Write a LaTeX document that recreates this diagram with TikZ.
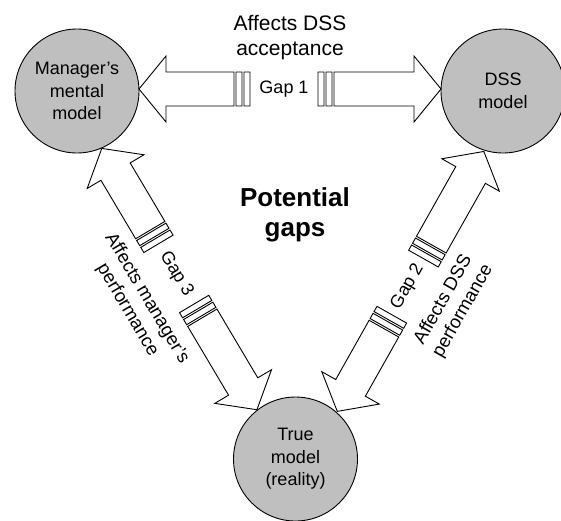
\documentclass[tikz,border=0pt]{standalone}
\usepackage{fontspec}
\setmainfont{Liberation Sans}
\usetikzlibrary{calc}

% flecha doble gruesa con brecha: desde, hasta, brecha, etiqueta, estilo, lado, desplazamiento
\newcommand{\gaparrow}[7]{%
  \draw[fatarrow] let \p1=($(#2)-(#1)$), \n1={atan2(\y1,\x1)}, \n2={veclen(\x1,\y1)} in
  {[shift={(#1)}, rotate=\n1, yshift=#7, transform shape]
    % punta hacia #1
    (62,0) -- (89,33) -- (89,17) -- (157,17) -- (157,-17) -- (89,-17) -- (89,-33) -- cycle
    (159,-17) rectangle (165,17) (167,-17) rectangle (173,17)
    % punta hacia #2
    (\n2-62,0) -- (\n2-89,33) -- (\n2-89,17) -- (\n2-169,17) -- (\n2-169,-17)
      -- (\n2-89,-17) -- (\n2-89,-33) -- cycle
    (\n2-171,-17) rectangle (\n2-177,17) (\n2-179,-17) rectangle (\n2-185,17)
    % textos
    (\n2/2-6,0) node[gaptext] {#3}
    (\n2/2,#6) node[#5] {#4}};
}

\begin{document}
\begin{tikzpicture}[
  x=1pt, y=1pt,
  model/.style={circle, draw=black, fill=black!25, line width=0.9pt, inner sep=0pt,
    minimum size=124pt, align=center, font=\fontsize{18}{22.5}\selectfont},
  fatarrow/.style={draw=black, fill=white, line width=0.9pt},
  gaptext/.style={inner sep=0pt, font=\fontsize{18}{22.5}\selectfont},
  effect/.style={inner sep=0pt, align=center, font=\fontsize{18.5}{22.5}\selectfont},
  effecttop/.style={inner sep=0pt, align=center, font=\fontsize{21}{25}\selectfont}
]
  \useasboundingbox (0,0) rectangle (561,-520);

  % Modelos
  \node[model] (M) at (77,-91) {Manager's\\mental\\model};
  \node[model] (D) at (503,-91) {DSS\\model};
  \node[model] (T) at (295.5,-459) {True\\model\\(reality)};

  % Brechas
  \gaparrow{M}{D}{Gap 1}{Affects DSS\\acceptance}{effecttop}{51}{2}
  \gaparrow{T}{D}{Gap 2}{Affects DSS\\performance}{effect}{-49}{-13}
  \gaparrow{M}{T}{Gap 3}{Affects manager's\\performance}{effect}{-49}{-8}

  % Titulo
  \node[font=\fontsize{26}{30}\selectfont\bfseries, align=center] (title) at (295,-215) {Potential\\gaps};
\end{tikzpicture}
\end{document}
